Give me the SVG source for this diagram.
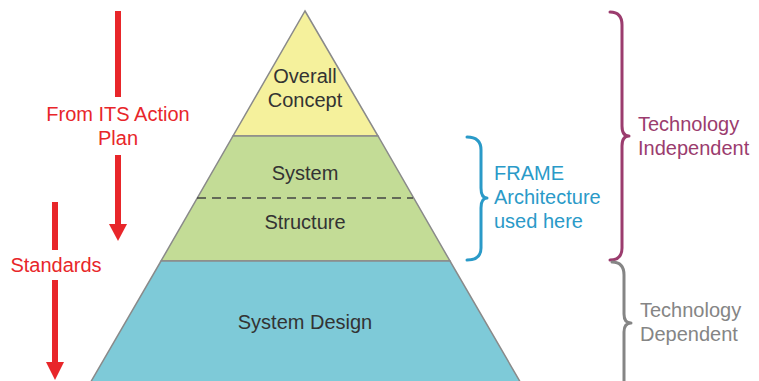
<svg xmlns="http://www.w3.org/2000/svg" width="759" height="381" viewBox="0 0 759 381">
<style>
text{font-family:"Liberation Sans",Arial,sans-serif;font-size:20px}
.lvl{fill:#333;text-anchor:middle}
.red{fill:#e8262a;text-anchor:middle}
.lay{stroke:#8a8a8a;stroke-width:1.5}
.brace{fill:none;stroke-width:3;stroke-linecap:round;stroke-linejoin:round}
</style>
<defs>
<marker id="ah" markerWidth="6" markerHeight="6" refX="6" refY="3" orient="auto" markerUnits="userSpaceOnUse" viewBox="0 0 6 6">
<path d="M0,0 L6,3 L0,6 Z" fill="#e8262a"/>
</marker>
</defs>
<rect width="759" height="381" fill="#fff"/>
<g id="overall-concept">
<polygon class="lay" points="305,11 378,136 233,136" fill="#f5f19c"/>
<text class="lvl" x="305" y="83">Overall</text>
<text class="lvl" x="305" y="107">Concept</text>
</g>
<g id="system-structure">
<polygon class="lay" points="233,136 378,136 450,261 161,261" fill="#c3dc96"/>
<line x1="197" y1="198" x2="413" y2="198" stroke="#444" stroke-width="1.5" stroke-dasharray="9,6"/>
<text class="lvl" x="305" y="180">System</text>
<text class="lvl" x="305" y="229">Structure</text>
</g>
<g id="system-design">
<polygon class="lay" points="161,261 450,261 522,385 89,385" fill="#7ecad8"/>
<text class="lvl" x="305" y="329">System Design</text>
</g>
<g id="connectors">
<line x1="118" y1="11" x2="118" y2="97" stroke="#e8262a" stroke-width="6"/>
<line x1="118" y1="155" x2="118" y2="224" stroke="#e8262a" stroke-width="6"/>
<polygon points="109,224 127,224 118,241" fill="#e8262a"/>
<line x1="55" y1="202" x2="55" y2="250" stroke="#e8262a" stroke-width="6"/>
<line x1="55" y1="280" x2="55" y2="363" stroke="#e8262a" stroke-width="6"/>
<polygon points="46,362 64,362 55,380" fill="#e8262a"/>
</g>
<g id="from-its-label">
<text class="red" x="118" y="121">From ITS Action</text>
<text class="red" x="118" y="145">Plan</text>
</g>
<g id="standards-label">
<text class="red" x="56" y="272">Standards</text>
</g>
<g id="frame-brace">
<path class="brace" stroke="#2a9ac8" d="M467,137 Q481,137 481,150 L481,188 Q481,198 487,198 Q481,198 481,208 L481,248 Q481,260 467,260"/>
<text x="494" y="180" fill="#2a9ac8">FRAME</text>
<text x="494" y="204" fill="#2a9ac8">Architecture</text>
<text x="494" y="228" fill="#2a9ac8">used here</text>
</g>
<g id="independent-brace">
<path class="brace" stroke="#9b3c6e" d="M610,12 Q622,12 622,25 L622,126 Q622,136 629,136 Q622,136 622,146 L622,248 Q622,260 610,260"/>
<text x="638" y="131" fill="#9b3c6e">Technology</text>
<text x="638" y="155" fill="#9b3c6e">Independent</text>
</g>
<g id="dependent-brace">
<path class="brace" stroke="#858585" d="M612,262 Q624,262 624,275 L624,314 Q624,323 631,323 Q624,323 624,332 L624,385"/>
<text x="640" y="317" fill="#858585">Technology</text>
<text x="640" y="341" fill="#858585">Dependent</text>
</g>
</svg>
